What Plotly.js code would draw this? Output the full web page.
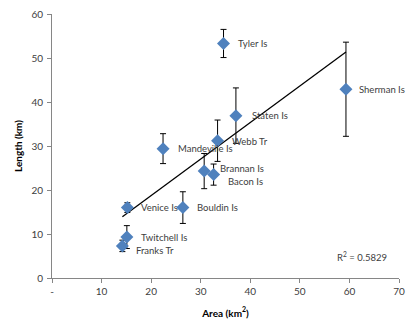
<!DOCTYPE html>
<html>
<head>
<meta charset="utf-8">
<script src="https://cdn.plot.ly/plotly-3.0.1.min.js"></script>
<style>html,body{margin:0;padding:0;background:#fff;}#chart{width:407px;height:322px;}</style>
</head>
<body>
<div id="chart"></div>
<script>
// Data
const names   = ['Tyler Is','Sherman Is','Staten Is','Webb Tr','Mandeville Is','Brannan Is','Bacon Is','Bouldin Is','Venice Is','Twitchell Is','Franks Tr'];
const areaKm2 = [34.6, 59.3, 37.1, 33.4, 22.4, 30.7, 32.6, 26.4, 15.2, 15.1, 14.2];
const lengthKm= [53.3, 42.9, 36.9, 31.2, 29.4, 24.3, 23.5, 16.0, 16.0, 9.3, 7.3];
const lengthErr=[3.2, 10.7, 6.3, 4.7, 3.4, 4.0, 2.4, 3.6, 1.1, 2.6, 1.3];
const xTickVals = [0,10,20,30,40,50,60,70];
const xTickText = ['-','10','20','30','40','50','60','70'];
const yTickVals = [0,10,20,30,40,50,60];
const r2Text = 'R<sup>2</sup> = 0.5829';

// label offsets (styling only)
const labelXShift = [12,11,14,12,13,14,12,12,12,12,12];
const labelYShift = [0,0,0,-1,0,3,-6.5,0,0,0,-4.5];

// linear trendline (least squares) computed from data
const n = areaKm2.length;
const mx = areaKm2.reduce((a,b)=>a+b,0)/n;
const my = lengthKm.reduce((a,b)=>a+b,0)/n;
let sxy=0, sxx=0;
for (let i=0;i<n;i++){ sxy+=(areaKm2[i]-mx)*(lengthKm[i]-my); sxx+=(areaKm2[i]-mx)**2; }
const slope = sxy/sxx, icpt = my - slope*mx;
const xmin = Math.min(...areaKm2), xmax = Math.max(...areaKm2);
const trendX = [xmin, xmax];
const trendY = trendX.map(x=>icpt+slope*x);

const fontFam = 'Lato, "Liberation Sans", Arial, sans-serif';
const gray = '#868686';
const txt = '#404040';

const traces = [
  {x: trendX, y: trendY, mode:'lines', line:{color:'#000', width:1.3}, hoverinfo:'skip', showlegend:false},
  {x: areaKm2, y: lengthKm, mode:'markers', type:'scatter',
   marker:{symbol:'diamond', size:10, color:'#4F81BD'},
   error_y:{type:'data', array: lengthErr, visible:true, color:'#000', thickness:1, width:3},
   showlegend:false}
];

const annotations = names.map((nm,i)=>({
  x: areaKm2[i], y: lengthKm[i], text: nm, showarrow:false,
  xanchor:'left', yanchor:'middle', xshift: labelXShift[i], yshift: labelYShift[i],
  font:{family:fontFam, size:9.5, color:txt}
}));
annotations.push({x:62.5, y:4.8, text:r2Text, showarrow:false, xanchor:'center', yanchor:'middle',
  font:{family:fontFam, size:9.5, color:txt}});

const layout = {
  width:407, height:322,
  margin:{l:52, r:8, t:14, b:44},
  paper_bgcolor:'#fff', plot_bgcolor:'#fff',
  font:{family:fontFam, size:10, color:txt},
  xaxis:{range:[0,70], tickvals:xTickVals, ticktext:xTickText, showgrid:false, zeroline:false,
    showline:true, linecolor:gray, linewidth:1, ticks:'outside', ticklen:4, tickcolor:gray,
    tickfont:{family:fontFam, size:10, color:txt},
    title:{text:'<b>Area (km<sup>2</sup>)</b>', font:{family:fontFam, size:10, color:'#000'}, standoff:13}},
  yaxis:{range:[0,60], tickvals:yTickVals, showgrid:false, zeroline:false,
    showline:true, linecolor:gray, linewidth:1, ticks:'outside', ticklen:4, tickcolor:gray,
    ticklabelstandoff:2,
    tickfont:{family:fontFam, size:10, color:txt},
    title:{text:'<b>Length (km)</b>', font:{family:fontFam, size:10, color:'#000'}, standoff:6}},
  annotations: annotations
};

Plotly.newPlot('chart', traces, layout, {displayModeBar:false, staticPlot:true});
</script>
</body>
</html>
